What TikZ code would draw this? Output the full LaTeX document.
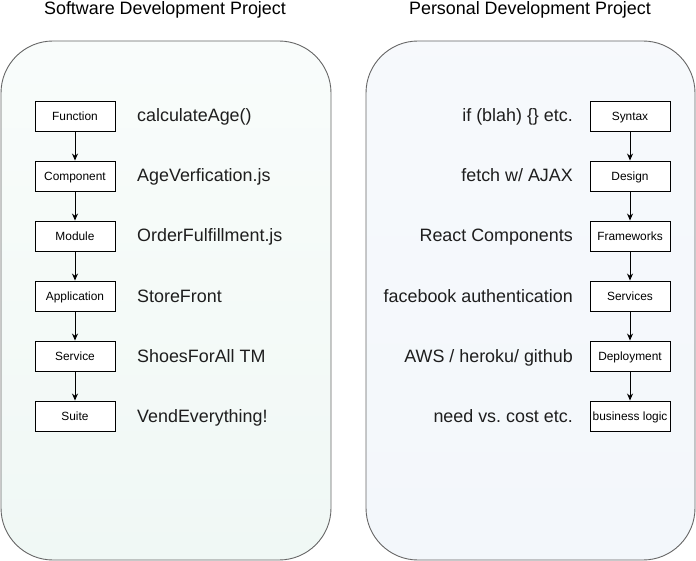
\documentclass[tikz,border=0pt]{standalone}
\usepackage{fontspec}
\setmainfont{Liberation Sans}
\usetikzlibrary{arrows.meta,positioning}

\definecolor{swfill}{RGB}{240,248,245}
\definecolor{pdfill}{RGB}{243,247,251}
\definecolor{panelline}{RGB}{102,102,102}
\definecolor{labeltext}{RGB}{30,30,30}

\tikzset{
  panel/.style={draw=panelline, line width=0.9pt, rounded corners=52pt},
  stepbox/.style={draw, fill=white, line width=0.9pt, minimum width=80pt,
    minimum height=30pt, inner sep=0pt, text height=9pt, text depth=0pt,
    font=\fontsize{11.9}{14}\selectfont},
  steplabel/.style={text=labeltext, inner sep=0pt, font=\fontsize{17.9}{20}\selectfont},
  title/.style={inner sep=0pt, font=\fontsize{17.9}{20}\selectfont},
  flow/.style={-{Stealth[length=7pt,width=6pt]}, line width=0.9pt}
}

\begin{document}
\begin{tikzpicture}[x=1pt,y=-1pt]
  \useasboundingbox (0,0) rectangle (696,561);

  \path[panel, top color=swfill!40, bottom color=swfill] (1,41) rectangle (331,560);
  \path[panel, top color=pdfill!70, bottom color=pdfill] (366,41) rectangle (695,560);

  \node[title] (swtitle) at (165,10) {Software Development Project};
  \node[title] (pdtitle) at (530,10) {Personal Development Project};

  % software side
  \foreach \name/\txt/\lbl [count=\i] in {
      sw1/Function/calculateAge(),
      sw2/Component/AgeVerfication.js,
      sw3/Module/OrderFulfillment.js,
      sw4/Application/StoreFront,
      sw5/Service/ShoesForAll TM,
      sw6/Suite/VendEverything!} {
    \node[stepbox] (\name) at (75,56+60*\i) {\txt};
    \node[steplabel, anchor=base west] (\name l) at (137,62+60*\i) {\lbl};
  }

  % personal side
  \foreach \name/\txt/\lbl [count=\i] in {
      pd1/Syntax/{if (blah) \{\} etc.},
      pd2/Design/{fetch w/ AJAX},
      pd3/Frameworks/{React Components},
      pd4/Services/{facebook authentication},
      pd5/Deployment/{AWS / heroku/ github},
      pd6/business logic/{need vs.\ cost etc.}} {
    \node[stepbox] (\name) at (630,56+60*\i) {\txt};
    \node[steplabel, anchor=base east] (\name l) at (573,62+60*\i) {\lbl};
  }

  \foreach \a/\b in {1/2,2/3,3/4,4/5,5/6} {
    \draw[flow] (sw\a) -- (sw\b);
    \draw[flow] (pd\a) -- (pd\b);
  }
\end{tikzpicture}
\end{document}
